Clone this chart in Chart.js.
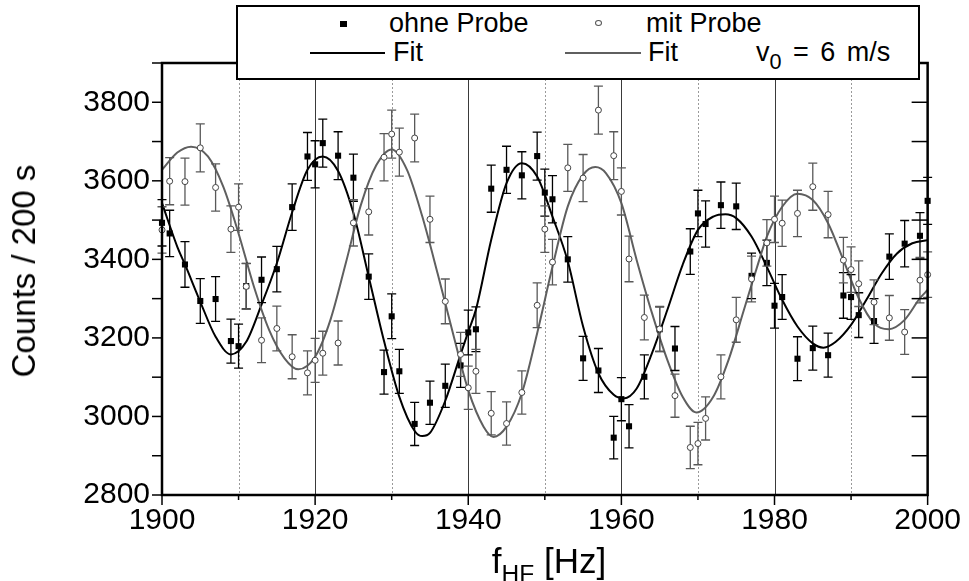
<!DOCTYPE html>
<html>
<head>
<meta charset="utf-8">
<script src="https://cdn.jsdelivr.net/npm/chart.js@4.4.1/dist/chart.umd.min.js"></script>
<style>
html,body{margin:0;padding:0;background:#fff;}
#wrap{position:relative;width:969px;height:581px;font-family:"Liberation Sans",Arial,Helvetica,sans-serif;color:#000;overflow:hidden;}
#c{position:absolute;left:0;top:0;}
#legend{position:absolute;left:236px;top:5px;width:680px;height:71px;border:2px solid #000;background:#fff;}
.lt{position:absolute;font-size:27px;line-height:27px;white-space:nowrap;}
.sq{position:absolute;width:7px;height:6px;background:#000;}
.ci{position:absolute;width:5px;height:4px;border:1px solid #555;border-radius:50%;background:#fff;}
.ln{position:absolute;height:2px;}
#ytitle{position:absolute;left:24px;top:271px;transform:translate(-50%,-50%) rotate(-90deg);font-size:33px;white-space:nowrap;}
#xtitle{position:absolute;left:549px;top:561px;transform:translate(-50%,-50%);font-size:35px;white-space:nowrap;}
sub{font-size:70%;vertical-align:-0.35em;line-height:0;}
.v0 sub{font-size:80%;}
</style>
</head>
<body>
<div id="wrap">
<canvas id="c" width="969" height="581"></canvas>
<div id="legend">
  <div class="sq" style="left:102px;top:14px;"></div>
  <div class="lt" style="left:151px;top:3px;">ohne Probe</div>
  <div class="ci" style="left:357px;top:13px;"></div>
  <div class="lt" style="left:408px;top:3px;">mit Probe</div>
  <div class="ln" style="left:72px;top:45px;width:75px;background:#000;"></div>
  <div class="lt" style="left:155px;top:32px;">Fit</div>
  <div class="ln" style="left:327px;top:45px;width:76px;background:#5f5f5f;"></div>
  <div class="lt" style="left:410px;top:32px;">Fit</div>
  <div class="lt v0" style="left:518px;top:32px;word-spacing:4px;">v<sub>0</sub> = 6 m/s</div>
</div>
<div id="ytitle">Counts / 200 s</div>
<div id="xtitle">f<sub>HF</sub> [Hz]</div>
</div>
<script>
// ---- data ----
const freq = [1900,1901,1903,1905,1907,1909,1910,1911,1913,1915,1917,1919,1920,1921,1923,1925,1927,1929,1930,1931,1933,1935,1937,1939,1940,1941,1943,1945,1947,1949,1950,1951,1953,1955,1957,1959,1960,1961,1963,1965,1967,1969,1970,1971,1973,1975,1977,1979,1980,1981,1983,1985,1987,1989,1990,1991,1993,1995,1997,1999,2000];
const ohneCounts = [3493,3466,3387,3294,3299,3192,3179,3332,3348,3375,3533,3662,3642,3696,3664,3608,3356,3113,3255,3115,2981,3035,3078,3130,3214,3222,3580,3628,3614,3663,3570,3553,3400,3148,3117,2946,3044,2975,3101,3222,3173,3420,3517,3490,3538,3535,3358,3391,3282,3304,3147,3174,3156,3308,3304,3258,3243,3407,3440,3460,3549];
const ohneErr = [59,59,58,57,57,56,56,58,58,58,59,61,60,61,61,60,58,56,57,56,55,55,55,56,57,57,60,60,60,61,60,60,58,56,56,54,55,55,56,57,56,58,59,59,59,59,58,58,57,57,56,56,56,58,57,57,57,58,59,59,60];
const mitCounts = [3475,3599,3598,3684,3583,3477,3533,3331,3194,3224,3152,3111,3143,3161,3187,3493,3521,3660,3719,3673,3709,3502,3293,3158,3073,3115,3008,2982,3061,3283,3477,3393,3633,3607,3780,3664,3573,3401,3252,3223,3053,2921,2931,2995,3101,3246,3350,3442,3502,3492,3517,3585,3514,3398,3374,3338,3291,3251,3215,3347,3361];
const mitErr = [59,60,60,61,60,59,59,58,57,57,56,56,56,56,56,59,59,60,61,61,61,59,57,56,55,56,55,55,55,57,59,58,60,60,61,61,60,58,57,57,55,54,54,55,56,57,58,59,59,59,59,60,59,58,58,58,57,57,57,58,58];
const fitOhneX = [1900,1902,1903,1905,1907,1909,1911,1913,1915,1917,1919,1921,1923,1925,1927,1929,1931,1933,1934,1935,1937,1939,1940,1941,1943,1945,1947,1949,1951,1953,1955,1957,1959,1960.3,1962,1964,1966,1968,1970,1972,1973.6,1975,1977,1979,1981,1983,1985,1986.4,1988,1990,1992,1994,1996,1998,2000];
const fitOhneY = [3543,3432,3387,3292,3203,3158,3190,3285,3390,3520,3628,3662,3625,3518,3356,3192,3050,2963,2950,2958,3040,3158,3216,3272,3450,3594,3645,3611,3509,3395,3229,3110,3055,3046,3071,3161,3271,3386,3475,3509,3515,3505,3458,3381,3297,3229,3186,3175,3190,3233,3297,3364,3415,3441,3449];
const fitMitX = [1900,1902,1903.8,1906,1908,1910,1912,1914,1916,1917.8,1920,1922,1924,1926,1928,1930,1932,1934,1936,1938,1940,1942,1943.3,1945,1947,1949,1951,1953,1955,1956.6,1958,1960,1962,1964,1966,1968,1969.8,1972,1974,1976,1978,1979,1981,1983,1985,1987,1989,1991,1993,1994.9,1997,1999,2000];
const fitMitY = [3628,3672,3687,3662,3585,3466,3331,3220,3148,3120,3152,3246,3390,3540,3640,3680,3628,3509,3364,3212,3067,2974,2948,2974,3059,3212,3381,3535,3615,3635,3619,3543,3398,3263,3144,3050,3010,3050,3144,3271,3398,3458,3534,3567,3551,3492,3398,3301,3237,3222,3246,3301,3322];
const xMajorTicks = [1900,1920,1940,1960,1980,2000];
const xMinorTicks = [1910,1930,1950,1970,1990];
const yLabelTicks = [2800,3000,3200,3400,3600,3800];
const yMinorTicks = [2900,3100,3300,3500,3700,3900];

const xAllTicks = xMajorTicks.concat(xMinorTicks).sort((a,b)=>a-b);
const yAllTicks = yLabelTicks.concat(yMinorTicks).sort((a,b)=>a-b);
const toPts = (xs, ys) => xs.map((x, i) => ({x: x, y: ys[i]}));

const errorBars = {
  id: 'errorBars',
  beforeDatasetDraw(chart, args) {
    const ds = chart.data.datasets[args.index];
    if (!ds.errors) return;
    const xs = chart.scales.x, ys = chart.scales.y, c = chart.ctx;
    c.save();
    c.strokeStyle = ds.errorColor;
    c.lineWidth = 1.3;
    ds.data.forEach((p, i) => {
      const px = xs.getPixelForValue(p.x);
      const t = ys.getPixelForValue(p.y + ds.errors[i]);
      const b = ys.getPixelForValue(p.y - ds.errors[i]);
      c.beginPath();
      c.moveTo(px, t); c.lineTo(px, b);
      c.moveTo(px - 4.5, t); c.lineTo(px + 4.5, t);
      c.moveTo(px - 4.5, b); c.lineTo(px + 4.5, b);
      c.stroke();
    });
    c.restore();
  }
};

const frame = {
  id: 'frame',
  beforeDatasetsDraw(chart) {
    const xs = chart.scales.x, a = chart.chartArea, c = chart.ctx;
    c.save();
    c.lineWidth = 1;
    c.strokeStyle = '#9a9a9a';
    c.setLineDash([2, 2]);
    xMinorTicks.forEach(v => {
      const px = Math.round(xs.getPixelForValue(v)) + 0.5;
      c.beginPath(); c.moveTo(px, a.top); c.lineTo(px, a.bottom); c.stroke();
    });
    c.setLineDash([]);
    c.strokeStyle = '#3a3a3a';
    xMajorTicks.forEach(v => {
      if (v === xs.min || v === xs.max) return;
      const px = Math.round(xs.getPixelForValue(v)) + 0.5;
      c.beginPath(); c.moveTo(px, a.top); c.lineTo(px, a.bottom); c.stroke();
    });
    c.restore();
  },
  afterDraw(chart) {
    const xs = chart.scales.x, ys = chart.scales.y, a = chart.chartArea, c = chart.ctx;
    c.save();
    c.strokeStyle = '#000';
    c.lineWidth = 1.5;
    xMajorTicks.forEach(v => {
      const px = xs.getPixelForValue(v);
      c.beginPath(); c.moveTo(px, a.bottom); c.lineTo(px, a.bottom + 10); c.stroke();
    });
    xMinorTicks.forEach(v => {
      const px = xs.getPixelForValue(v);
      c.beginPath(); c.moveTo(px, a.bottom); c.lineTo(px, a.bottom + 5); c.stroke();
    });
    yAllTicks.forEach(v => {
      const py = ys.getPixelForValue(v);
      c.beginPath(); c.moveTo(a.left - 10, py); c.lineTo(a.left, py); c.stroke();
      c.beginPath(); c.moveTo(a.right - 16, py); c.lineTo(a.right, py); c.stroke();
    });
    c.lineWidth = 2.5;
    c.beginPath();
    c.moveTo(a.left, a.top); c.lineTo(a.right, a.top);
    c.lineTo(a.right, a.bottom); c.lineTo(a.left, a.bottom); c.closePath();
    c.stroke();
    c.restore();
  }
};

const tickFont = {family: '"Liberation Sans", Arial, sans-serif', size: 30};

new Chart(document.getElementById('c'), {
  type: 'scatter',
  data: {
    datasets: [
      {label: 'ohne Probe', data: toPts(freq, ohneCounts), errors: ohneErr, errorColor: '#000',
       pointStyle: 'rect', pointRadius: 4.3, backgroundColor: '#000', borderColor: '#000', borderWidth: 0,
       order: 2, clip: false},
      {label: 'mit Probe', data: toPts(freq, mitCounts), errors: mitErr, errorColor: '#595959',
       pointStyle: 'circle', pointRadius: 3, backgroundColor: '#fff', borderColor: '#444', borderWidth: 1,
       order: 1, clip: false},
      {type: 'line', label: 'Fit ohne', data: toPts(fitOhneX, fitOhneY), borderColor: '#000', borderWidth: 2,
       pointRadius: 0, cubicInterpolationMode: 'monotone', fill: false, order: 4},
      {type: 'line', label: 'Fit mit', data: toPts(fitMitX, fitMitY), borderColor: '#5f5f5f', borderWidth: 2,
       pointRadius: 0, cubicInterpolationMode: 'monotone', fill: false, order: 3}
    ]
  },
  options: {
    responsive: false,
    animation: false,
    devicePixelRatio: 1,
    layout: {padding: {left: 0, top: 63, right: 37, bottom: 0}},
    plugins: {legend: {display: false}, tooltip: {enabled: false}},
    scales: {
      x: {
        type: 'linear', min: 1900, max: 2000,
        afterBuildTicks: s => { s.ticks = xAllTicks.map(v => ({value: v})); },
        afterFit: s => { s.height = 86; },
        ticks: {autoSkip: false, maxRotation: 0, padding: 8, color: '#000', font: tickFont,
                callback: v => xMajorTicks.includes(v) ? String(v) : ''},
        grid: {display: false, drawTicks: false},
        border: {display: false}
      },
      y: {
        type: 'linear', min: 2800, max: 3900,
        afterBuildTicks: s => { s.ticks = yAllTicks.map(v => ({value: v})); },
        afterFit: s => { s.width = 162; },
        ticks: {autoSkip: false, padding: 12, color: '#000', font: tickFont,
                callback: v => yLabelTicks.includes(v) ? String(v) : ''},
        grid: {display: false, drawTicks: false},
        border: {display: false}
      }
    }
  },
  plugins: [errorBars, frame]
});
</script>
</body>
</html>
